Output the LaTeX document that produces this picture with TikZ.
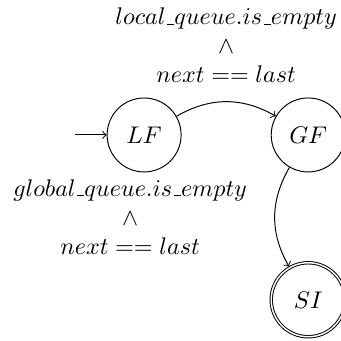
\documentclass[tikz,border=0pt]{standalone}
\usetikzlibrary{automata,positioning}

% guion bajo corto, como en plain
\newcommand{\usc}{\kern.06em\vbox{\hrule width.3em}}

\begin{document}
\begin{tikzpicture}[->,>=to,node distance=1.3cm,auto,
    every state/.style={draw,minimum size=30.7pt,inner sep=0pt},
    initial text={}]
  \useasboundingbox (-59.8pt,-85.5pt) rectangle (81.7pt,56pt);
  % estados
  \node[state,initial]   (LF)                 {$LF$};
  \node[state]           (GF) [right=of LF]   {$GF$};
  \node[state,accepting] (SI) [below=of GF]   {$SI$};
  % transiciones
  \path (LF) edge[bend left]  node[above=4.5pt,align=center]
          {$local\usc queue.is\usc empty$\\$\wedge$\\$next == last$} (GF)
        (GF) edge[bend right] node[left=8pt,align=center]
          {$global\usc queue.is\usc empty$\\$\wedge$\\$next == last$} (SI);
\end{tikzpicture}
\end{document}
